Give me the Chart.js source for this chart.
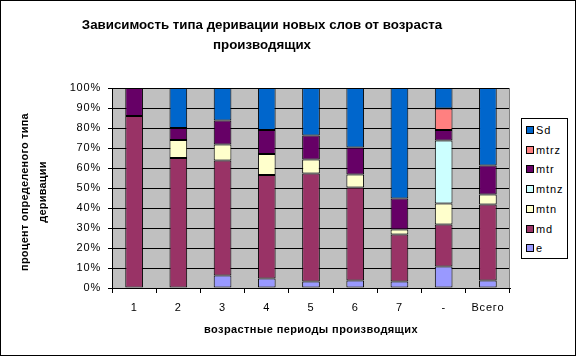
<!DOCTYPE html>
<html>
<head>
<meta charset="utf-8">
<script src="https://cdn.jsdelivr.net/npm/chart.js@4/dist/chart.umd.min.js"></script>
<style>
  html, body { margin: 0; padding: 0; background: #fff; }
  #wrap { position: relative; width: 576px; height: 356px; }
  #legend { position: absolute; left: 521px; top: 118px; width: 45px; height: 139px;
            border: 1px solid #000; background: #fff; font-family: "Liberation Sans", Arial, sans-serif; font-size: 11px; letter-spacing: 0.9px; }
  .li { position: absolute; left: 4px; height: 12px; line-height: 12px; white-space: nowrap; }
  .sw { position: absolute; left: 0; top: 2px; width: 6px; height: 6px; border: 1px solid #000; }
  .tx { position: absolute; left: 10px; top: 0; color: #000; }
</style>
</head>
<body>
<div id="wrap">
  <canvas id="c" width="576" height="356"></canvas>
  <div id="legend"></div>
</div>
<script>
const categories = ["1", "2", "3", "4", "5", "6", "7", "-", "Всего"];
const seriesNames = ["e", "md", "mtn", "mtnz", "mtr", "mtrz", "Sd"];
const seriesColors = ["#9999FF", "#993366", "#FFFFCC", "#CCFFFF", "#660066", "#FF8080", "#0066CC"];
const e    = [0,   0,  6.2,  4.7,  3.2,  3.7,  3.2, 10.7,  3.7];
const md   = [86, 65, 57.5, 51.8, 54.0, 46.6, 23.5, 21.0, 38.1];
const mtn  = [0,   9,  8.0, 10.5,  7.0,  6.4,  2.6, 10.5,  4.9];
const mtnz = [0,   0,  0,    0,    0,    0,    0,   31.5,  0];
const mtr  = [14,  6, 12.1, 12.0, 12.1, 13.5, 15.5,  5.3, 14.5];
const mtrz = [0,   0,  0,    0,    0,    0,    0,   10.7,  0];
const Sd   = [0,  20, 16.2, 21.0, 23.7, 29.8, 55.2, 10.3, 38.8];
const yTicks = [0, 10, 20, 30, 40, 50, 60, 70, 80, 90, 100];
const titleLines = ["Зависимость типа деривации новых слов от возраста", "производящих"];
const xTitle = "возрастные периоды производящих";
const yTitle = ["процент определеного типа", "деривации"];

const seriesData = [e, md, mtn, mtnz, mtr, mtrz, Sd];
const FONT = '"Liberation Sans", Arial, sans-serif';

const datasets = seriesNames.map((n, i) => ({
  label: n,
  data: seriesData[i],
  backgroundColor: seriesColors[i],
  borderColor: '#000',
  borderWidth: 1,
  borderSkipped: false,
  categoryPercentage: 1.0,
  barPercentage: 0.4
}));

// HTML legend (reverse order like the original)
const leg = document.getElementById('legend');
for (let k = seriesNames.length - 1, row = 0; k >= 0; k--, row++) {
  const d = document.createElement('div');
  d.className = 'li';
  d.style.top = (5 + row * 19.7) + 'px';
  d.innerHTML = '<span class="sw" style="background:' + seriesColors[k] + '"></span><span class="tx">' + seriesNames[k] + '</span>';
  leg.appendChild(d);
}

const bgPlugin = {
  id: 'bg',
  beforeDraw(chart) {
    const { ctx, chartArea: a } = chart;
    ctx.save();
    ctx.fillStyle = '#fff';
    ctx.fillRect(0, 0, chart.width, chart.height);
    ctx.fillStyle = '#C0C0C0';
    ctx.fillRect(a.left, a.top, a.right - a.left, a.bottom - a.top);
    ctx.restore();
    ctx.letterSpacing = '0.8px';
  },
  afterDraw(chart) {
    const { ctx, chartArea: a } = chart;
    ctx.save();
    ctx.strokeStyle = '#808080';
    ctx.lineWidth = 1;
    ctx.beginPath();
    ctx.moveTo(Math.round(a.right) - 0.5, a.top);
    ctx.lineTo(Math.round(a.right) - 0.5, a.bottom);
    ctx.stroke();
    ctx.strokeStyle = '#000';
    ctx.strokeRect(0.5, 0.5, chart.width - 1, chart.height - 1);

    // titles
    ctx.fillStyle = '#000';
    ctx.textAlign = 'center';
    ctx.textBaseline = 'middle';
    ctx.letterSpacing = '0px';
    ctx.font = 'bold 13.3px ' + FONT;
    ctx.fillText(titleLines[0], 262, 25);
    ctx.fillText(titleLines[1], 262, 45);
    ctx.letterSpacing = '0.4px';
    ctx.font = 'bold 11px ' + FONT;
    ctx.fillText(xTitle, 311, 330);
    ctx.letterSpacing = '0.2px';
    const cy = 192;
    ctx.translate(0, cy);
    ctx.rotate(-Math.PI / 2);
    ctx.fillText(yTitle[0], 0, 25);
    ctx.fillText(yTitle[1], 0, 43);
    ctx.restore();
    ctx.letterSpacing = '0px';
  }
};

new Chart(document.getElementById('c'), {
  type: 'bar',
  data: { labels: categories, datasets },
  plugins: [bgPlugin],
  options: {
    responsive: false,
    animation: false,
    layout: { padding: { left: 0, right: 66, top: 88, bottom: 0 } },
    plugins: {
      legend: { display: false },
      tooltip: { enabled: false },
      title: { display: false }
    },
    scales: {
      x: {
        stacked: true,
        grid: { display: true, offset: true, drawOnChartArea: false, color: '#000', tickColor: '#000', tickLength: 5 },
        border: { color: '#000' },
        ticks: { color: '#000', font: { family: FONT, size: 11 }, padding: 8, maxRotation: 0 },
        title: { display: false },
        afterFit(s) { s.height = 68; }
      },
      y: {
        stacked: true,
        min: 0, max: 100,
        afterBuildTicks(s) { s.ticks = yTicks.map(v => ({ value: v })); },
        grid: { color: '#000', tickColor: '#000', tickLength: 4 },
        border: { color: '#000' },
        ticks: { color: '#000', font: { family: FONT, size: 11 }, padding: 7, callback: v => v + '%' },
        title: { display: false },
        afterFit(s) { s.width = 112; }
      }
    }
  }
});
</script>
</body>
</html>
